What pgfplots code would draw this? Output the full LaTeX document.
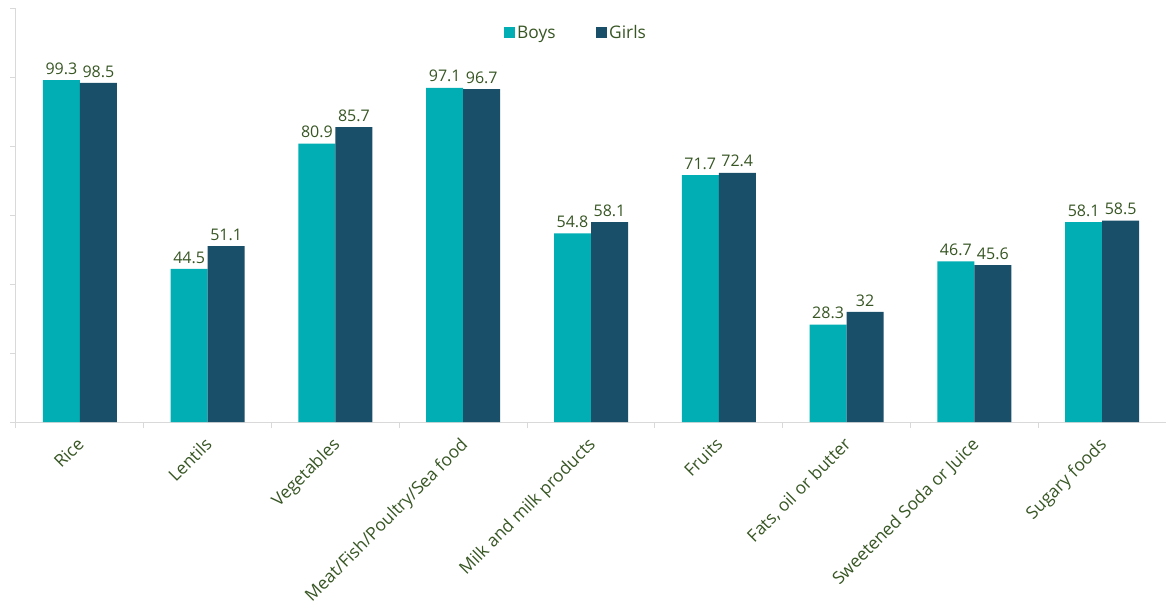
\documentclass[border=0pt]{standalone}
\usepackage{pgfplots}
\pgfplotsset{compat=1.18}
\usepackage{fontspec}
\setmainfont{Open Sans}
\definecolor{boys}{HTML}{00AEB3}
\definecolor{girls}{HTML}{1A4F69}
\definecolor{lbl}{HTML}{375623}
\definecolor{axisgray}{HTML}{D9D9D9}
\begin{document}
\begin{tikzpicture}
\begin{axis}[
  scale only axis, width=862.5pt, height=309.75pt,
  ybar=0pt, bar width=27.75pt,
  xmin=-0.5, xmax=8.5, ymin=0, ymax=120,
  axis x line*=bottom, axis y line*=left,
  axis line style={axisgray, line width=0.75pt},
  xtick={0,...,8},
  xticklabels={Rice,Lentils,Vegetables,Meat/Fish/Poultry/Sea food,Milk and milk products,Fruits,{Fats, oil or butter},Sweetened Soda or Juice,Sugary foods},
  x tick label style={xshift=-3pt, yshift=-6pt, rotate=45, anchor=north east, font=\fontsize{13pt}{15pt}\selectfont, text=lbl, inner sep=0pt},
  x tick style={draw=none},
  extra x ticks={-0.5,0.5,...,8.5},
  extra x tick labels={},
  extra x tick style={x tick style={draw=axisgray, line width=0.75pt}, major tick length=4.5pt, tick align=outside},
  ytick={0,20,...,120}, yticklabels={},
  y tick style={draw=axisgray, line width=0.75pt},
  major tick length=4.5pt, tick align=outside,
  nodes near coords,
  nodes near coords style={font=\fontsize{12pt}{14pt}\selectfont, text=lbl, inner sep=4pt, /pgf/number format/assume math mode=true},
  legend style={at={(0.487,0.942)}, anchor=center, draw=none, fill=none, font=\fontsize{13pt}{15pt}\selectfont, text=lbl, legend columns=2, /tikz/every even column/.append style={column sep=28pt}},
  clip=false,
]
\addplot[fill=boys, draw=none, legend image code/.code={\fill[boys] (0pt,-4.1pt) rectangle (8.25pt,4.1pt);}] coordinates {(0,99.3) (1,44.5) (2,80.9) (3,97.1) (4,54.8) (5,71.7) (6,28.3) (7,46.7) (8,58.1)};
\addplot[fill=girls, draw=none, legend image code/.code={\fill[girls] (0pt,-4.1pt) rectangle (8.25pt,4.1pt);}] coordinates {(0,98.5) (1,51.1) (2,85.7) (3,96.7) (4,58.1) (5,72.4) (6,32) (7,45.6) (8,58.5)};
\legend{Boys,Girls}
\coordinate (nw) at (rel axis cs:0,1);
\end{axis}
\pgfresetboundingbox
\path ([xshift=-12pt,yshift=6.75pt]nw) rectangle ++(874.5pt,-453pt);
\end{tikzpicture}
\end{document}
